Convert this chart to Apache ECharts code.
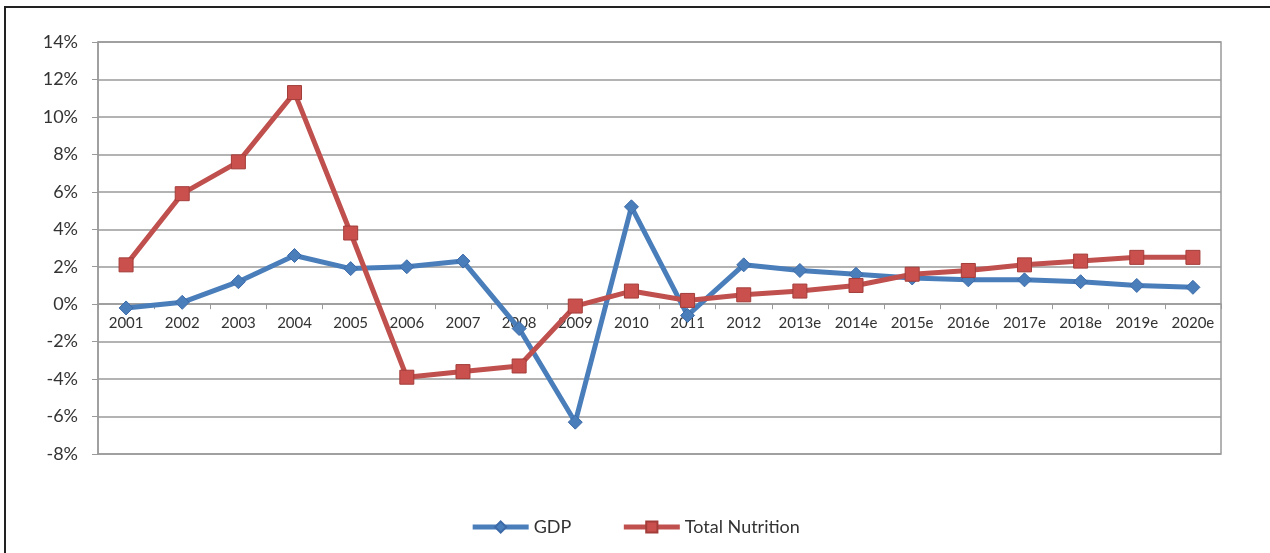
<!DOCTYPE html>
<html>
<head>
<meta charset="utf-8">
<script src="https://cdn.jsdelivr.net/npm/echarts@6/dist/echarts.min.js"></script>
<style>
  html, body { margin: 0; padding: 0; background: #fff; }
  #chart { position: absolute; left: 0; top: 0; width: 1270px; height: 553px; }
  #frame { position: absolute; left: 4px; top: 6px; width: 1280px; height: 560px;
           border-left: 2px solid #222; border-top: 2px solid #222; pointer-events: none; }
</style>
</head>
<body>
<div id="chart"></div>
<div id="frame"></div>
<script>
// Year-on-year growth, actuals then estimates
const years = ['2001','2002','2003','2004','2005','2006','2007','2008','2009','2010',
               '2011','2012','2013e','2014e','2015e','2016e','2017e','2018e','2019e','2020e'];
const gdp = [-0.2, 0.1, 1.2, 2.6, 1.9, 2.0, 2.3, -1.3, -6.3, 5.2,
             -0.6, 2.1, 1.8, 1.6, 1.4, 1.3, 1.3, 1.2, 1.0, 0.9];
const totalNutrition = [2.1, 5.9, 7.6, 11.3, 3.8, -3.9, -3.6, -3.3, -0.1, 0.7,
                        0.2, 0.5, 0.7, 1.0, 1.6, 1.8, 2.1, 2.3, 2.5, 2.5];
const yMin = -8, yMax = 14, yStep = 2;

const chart = echarts.init(document.getElementById('chart'));
const textColor = '#333';
const lineGray = '#9a9a9a';
const font = 'Lato, "Open Sans", sans-serif';

chart.setOption({
  animation: false,
  textStyle: { fontFamily: font },
  grid: { left: 98, right: 49, top: 42, bottom: 99, show: true, borderColor: lineGray, borderWidth: 1.5 },
  legend: {
    bottom: 12,
    left: 'center',
    itemWidth: 56,
    itemHeight: 14,
    itemGap: 50,
    lineStyle: { width: 5 },
    textStyle: { fontSize: 18, color: textColor, fontFamily: font },
    data: ['GDP', 'Total Nutrition']
  },
  xAxis: {
    type: 'category',
    data: years,
    boundaryGap: true,
    axisLine: { onZero: false, lineStyle: { color: lineGray, width: 1.5 } },
    axisTick: { show: true, length: 5, lineStyle: { color: lineGray } },
    axisLabel: { color: textColor, fontSize: 15, margin: 11, interval: 0 },
    splitLine: { show: false }
  },
  yAxis: {
    type: 'value',
    min: yMin,
    max: yMax,
    interval: yStep,
    axisLine: { show: true, lineStyle: { color: lineGray, width: 1.5 } },
    axisTick: { show: true, length: 6, lineStyle: { color: lineGray } },
    axisLabel: { color: textColor, fontSize: 18, margin: 20, formatter: v => v + '%' },
    splitLine: { show: true, lineStyle: { color: lineGray, width: 1.5 } }
  },
  series: [
    {
      name: 'GDP',
      type: 'line',
      data: gdp,
      symbol: 'diamond',
      symbolSize: 14,
      lineStyle: { color: '#4a7ebb', width: 5 },
      itemStyle: { color: '#4a7ebb', borderColor: '#3c6aa8', borderWidth: 1 },
      z: 2
    },
    {
      name: 'Total Nutrition',
      type: 'line',
      data: totalNutrition,
      symbol: 'rect',
      symbolSize: 14,
      lineStyle: { color: '#c0504d', width: 5 },
      itemStyle: { color: '#c9504d', borderColor: '#a33d3a', borderWidth: 1 },
      z: 3
    }
  ]
});

// Place the category axis on the 0% line
const zeroY = chart.convertToPixel({ yAxisIndex: 0 }, 0);
const bottomY = chart.convertToPixel({ yAxisIndex: 0 }, yMin);
chart.setOption({ xAxis: { offset: zeroY - bottomY } });
</script>
</body>
</html>
